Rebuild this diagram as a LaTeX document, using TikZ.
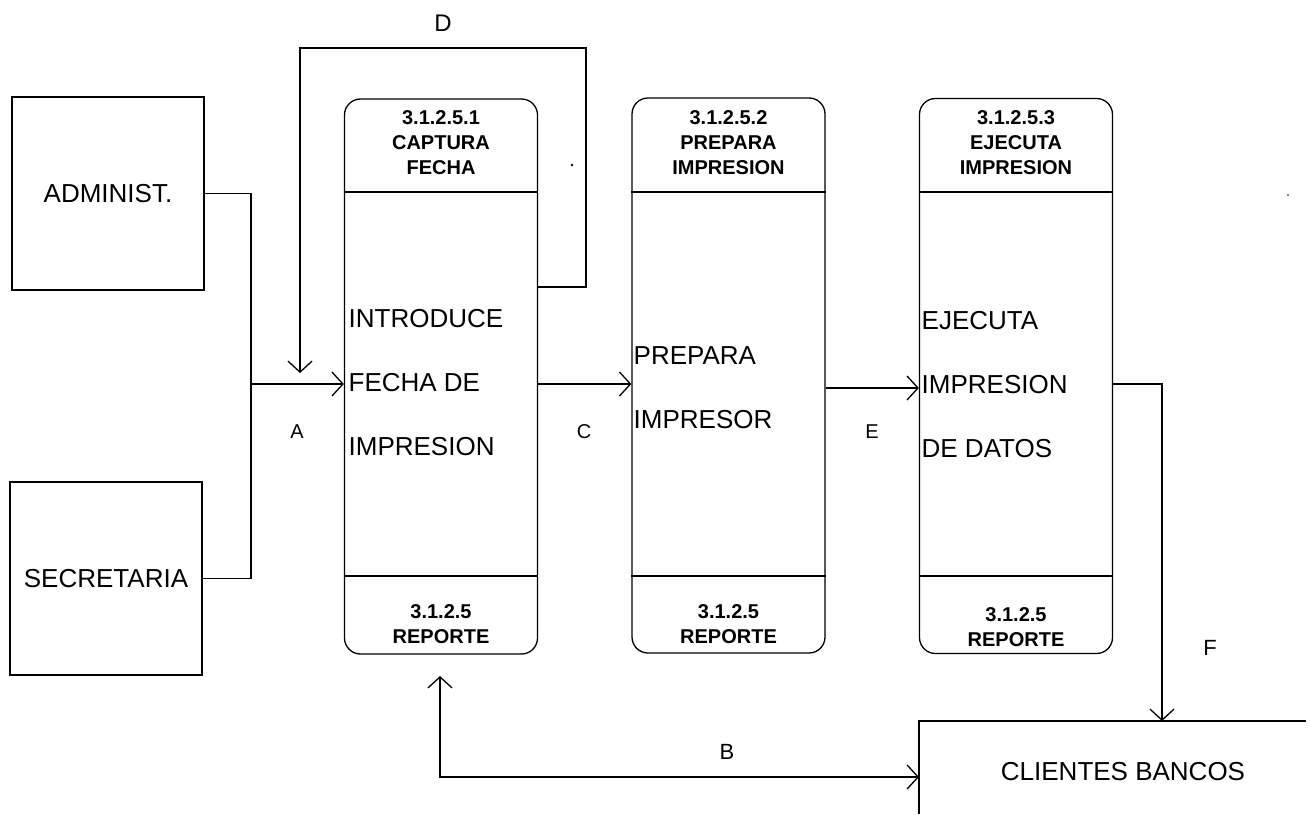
\documentclass[tikz,border=0pt]{standalone}
\usepackage{fontspec}
\setmainfont{Liberation Sans}
\usetikzlibrary{arrows.meta}
\begin{document}
\begin{tikzpicture}[x=1pt,y=-1pt,
  line width=1.3pt,
  flow/.style={-{Straight Barb[length=11pt,width=24pt]}},
  extbox/.style={draw,minimum width=192pt,minimum height=193pt,inner sep=0pt,
    font=\fontsize{26}{30}\selectfont},
  procbox/.style={draw,rounded corners=16pt,minimum width=193pt,minimum height=555pt,inner sep=0pt},
  headtxt/.style={align=center,inner sep=0pt,font=\bfseries\fontsize{20}{25}\selectfont},
  bodytxt/.style={align=left,anchor=west,inner sep=0pt,font=\fontsize{26}{64}\selectfont},
  lbl/.style={inner sep=0pt,font=\fontsize{20}{24}\selectfont}]
\useasboundingbox (0,0) rectangle (1311,814);

% external entities
\node[extbox] (adm) at (108,193.5) {ADMINIST.};
\node[extbox] (sec) at (106,578.5) {SECRETARIA};

% process boxes
\node[procbox] (p1) at (441,376.5) {};
\node[procbox] (p2) at (728.5,375.5) {};
\node[procbox] (p3) at (1016,376) {};

% header and footer dividers
\foreach \p in {p1,p2,p3}{
  \draw (\p.west |- 0,192) -- (\p.east |- 0,192);
  \draw (\p.west |- 0,576) -- (\p.east |- 0,576);
}

% headers
\node[headtxt] (h1) at (441,143) {3.1.2.5.1\\CAPTURA\\FECHA};
\node[headtxt] (h2) at (728.5,143) {3.1.2.5.2\\PREPARA\\IMPRESION};
\node[headtxt] (h3) at (1016,143) {3.1.2.5.3\\EJECUTA\\IMPRESION};

% footers
\node[headtxt] (f1) at (441,624.5) {3.1.2.5\\REPORTE};
\node[headtxt] (f2) at (728.5,624.5) {3.1.2.5\\REPORTE};
\node[headtxt] (f3) at (1016,627.5) {3.1.2.5\\REPORTE};

% process descriptions
\node[bodytxt] (b1) at (348,383) {INTRODUCE\\FECHA DE\\IMPRESION};
\node[bodytxt] (b2) at (633,387.5) {PREPARA\\IMPRESOR};
\node[bodytxt] (b3) at (921,384.5) {EJECUTA\\IMPRESION\\DE DATOS};

% data store
\coordinate (cliTR) at (1306,721);
\coordinate (cliTL) at (919,721);
\coordinate (cliBL) at (919,814);
\draw (cliTR) -- (cliTL) -- (cliBL);
\node[inner sep=0pt,font=\fontsize{26}{30}\selectfont] (cli) at (1123,772) {CLIENTES BANCOS};

% flow A: entities into capture
\coordinate (jA) at (251,384);
\draw (adm.east) -| (jA);
\draw (sec.east) -| (jA);
\draw[flow] (jA) -- (p1.west |- jA);
\node[lbl] (lA) at (297,432) {A};

% flow D: loop back from capture
\coordinate (d1) at (586,287);
\coordinate (d2) at (586,48);
\coordinate (d3) at (300,48);
\coordinate (d4) at (300,373);
\draw[flow] (p1.east |- d1) -- (d1) -- (d2) -- (d3) -- (d4);
\node[lbl,font=\fontsize{24}{28}\selectfont] (lD) at (443,23) {D};

% flow C
\draw[flow] (p1.east |- 0,384) -- (p2.west |- 0,384);
\node[lbl] (lC) at (584,432) {C};

% flow E
\draw[flow] (p2.east |- 0,388) -- (p3.west |- 0,388);
\node[lbl] (lE) at (872,432) {E};

% flow F into data store
\coordinate (fc) at (1162,384);
\draw[flow] (p3.east |- fc) -- (fc) -- (fc |- cliTR);
\node[lbl,font=\fontsize{22}{26}\selectfont] (lF) at (1210,648) {F};

% flow B between capture and data store
\coordinate (bt) at (440,676);
\coordinate (bc) at (440,777);
\draw[{Straight Barb[length=11pt,width=24pt]}-{Straight Barb[length=11pt,width=24pt]}] (bt) -- (bc) -- (cliTL |- bc);
\node[lbl,font=\fontsize{22}{26}\selectfont] (lB) at (727,752) {B};

% stray specks
\fill (572,165) circle (1.3pt);
\fill (1288,195) circle (0.9pt);
\end{tikzpicture}
\end{document}
